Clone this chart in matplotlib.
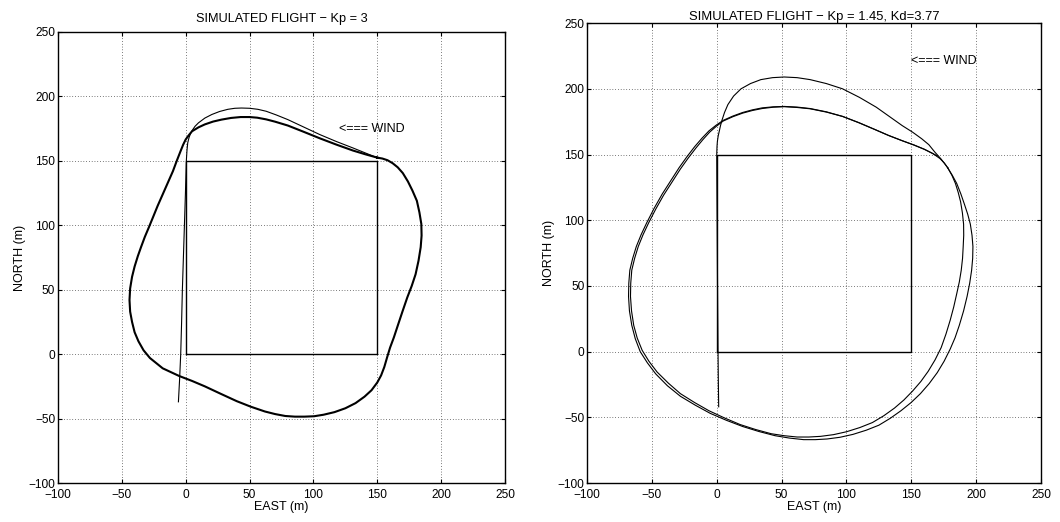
import matplotlib
matplotlib.use('Agg')
import matplotlib.pyplot as plt

plt.rcParams['font.family'] = ['Liberation Sans', 'DejaVu Sans']

# target square (both panels)
square_x = [0, 150, 150, 0, 0]
square_y = [0, 0, 150, 150, 0]

# left panel: Kp = 3
entry1_x = [-5.7, -4.8, -3.9, -3.2, -2.6, -1.8, -1.0, -0.2, 0.5, 1.0, 1.6, 2.6, 3.7, 5.0, 7.3, 10.0, 15.0, 20.5,
            26.5, 33.0, 38.5, 43.7, 50.0, 56.5, 63.0, 71.0, 80.0, 92.5, 105.0, 118.0, 131.0, 141.0, 150.0]
entry1_y = [-37.0, -20.0, 0.0, 25.0, 50.0, 75.0, 100.0, 125.0, 150.0, 158.0, 164.0, 168.0, 171.0, 173.5, 176.8,
            179.5, 183.2, 186.0, 188.3, 190.0, 190.8, 191.0, 190.8, 190.0, 188.5, 185.6, 182.0, 176.2, 170.4, 165.0,
            160.0, 156.0, 152.4]

loop1_x = [150, 154, 158, 162, 166, 170, 174, 177.5, 181, 183, 184.5, 184.7, 184, 182.3, 180, 177, 173.5, 169.7,
           166, 163, 160, 157.7, 155.5, 153, 150, 145.5, 140, 133, 125, 116.5, 108, 100.5, 93, 85.5, 78, 70, 62,
           51, 40, 27.5, 15, 5, -5, -11.5, -18, -23, -28, -33, -37, -40, -42, -43.5, -44, -43.5, -42, -40, -37.5,
           -35, -32, -28.8, -25.7, -22, -18, -14, -10, -7, -4, -2, 0, 2.5, 5, 10, 15, 21.5, 28, 35.5, 43, 50, 56,
           63, 70, 80, 92.5, 105, 118, 131, 141, 150]
loop1_y = [152.5, 151.8, 150.5, 148.2, 145, 140.5, 134, 127, 119, 110, 101, 92, 83, 72.5, 62, 53, 44, 33, 22, 13,
           5, -2.5, -10, -16.5, -22, -28, -33, -38, -42, -45, -47, -48.2, -48.5, -48.5, -48, -46.5, -44.5, -40.8,
           -36.5, -30.8, -25, -20.8, -17, -14, -11, -7, -3, 3, 10, 17, 25, 33, 42, 51, 60, 68, 76, 83, 91, 98.5,
           106, 115, 124, 133, 142, 150, 157.6, 162.5, 166.6, 170, 173, 176, 178.3, 180.5, 182, 183.3, 184, 184,
           183.5, 182.2, 180.4, 177.4, 172.5, 167.5, 162.6, 158, 155, 152.5]

# right panel: Kp = 1.45, Kd = 3.77
entry2_x = [1.5, 1.2, 1.0, 0.6, 0.3, 0.1, 0.0, 0.2, 0.5, 1.1, 2.0, 2.9, 4.0, 6.0, 8.6, 13.0, 18.7, 26.0, 34.0,
            43.0, 52.0, 62.0, 72.0, 84.5, 97.0, 110.0, 123.0, 133.0, 143.0, 151.0, 158.0, 163.5, 168.0, 173.0, 178.0]
entry2_y = [-42.0, -20.0, 0.0, 50.0, 100.0, 130.0, 150.0, 156.0, 160.0, 164.0, 168.0, 172.0, 176.0, 182.0, 188.0,
            194.5, 200.0, 204.0, 207.0, 208.5, 209.0, 208.5, 207.0, 204.0, 200.0, 193.5, 186.0, 179.0, 172.0, 167.0,
            162.0, 157.5, 152.0, 146.5, 140.0]

loopA_x = [178, 181.7, 185, 188.2, 191, 193.5, 195.5, 196.8, 197.5, 197.3, 196.5, 195, 193, 190.3, 187, 183.7,
           180, 175.3, 170, 163.8, 157, 149.8, 142, 133.7, 125, 115.3, 105, 95, 85, 76, 67, 56, 45, 32.5, 20, 7.5,
           -5, -16.5, -28, -38, -47, -53.5, -59, -62.8, -65.5, -67.3, -68, -67.8, -67, -64.8, -62, -58.3, -54,
           -48.3, -42, -35.5, -29, -23, -17, -11.5, -6, -0.5, 5, 12.5, 20, 27.5, 35, 43.5, 52, 62, 72, 84.5, 97,
           109.5, 122, 132.5, 143, 152, 160, 166.5, 172, 175.5, 178]
loopA_y = [140, 134, 128, 120, 112, 104.5, 97, 88.5, 80, 71, 62, 52, 42, 31, 20, 10.5, 2, -7.3, -16, -24.3, -32,
           -38.8, -45, -50.8, -56, -59.8, -63, -65.2, -66.5, -67, -67, -65.8, -64, -60.8, -57, -52.3, -47, -40.8,
           -34, -26, -17, -8.5, 0, 9.8, 20, 31, 42, 52, 62, 71, 80, 89, 98, 109, 120, 130, 140, 148.3, 156, 162.3,
           168, 172.3, 176, 179.3, 182, 184, 185.5, 186.3, 186.6, 186.1, 185, 182.5, 179, 174.3, 169, 164.5, 160.5,
           157.3, 154, 150.8, 147, 143.5, 140]

loopB_x = [178, 181.3, 184, 186.2, 188, 189.4, 190.3, 190.4, 190, 189.5, 188.5, 187, 185, 182.7, 180, 176.7, 173,
           168.3, 163, 157.3, 151, 144.3, 137, 128.8, 120, 110.3, 100, 90, 80, 71, 62, 52, 42, 30, 18, 6, -6, -17,
           -28, -37.3, -46, -52.3, -57.5, -61.3, -64, -65.7, -66.5, -66.3, -65.5, -63.3, -60.5, -56.8, -52.5, -47,
           -41, -34.5, -28, -22, -16, -10.7, -5.5, -0.3, 5, 12.5, 20, 27.5, 35, 43.5, 52, 62, 72, 84.5, 97, 109.5,
           122, 132.5, 143, 152, 160, 165, 170]
loopB_y = [140, 134.2, 128, 121, 114, 105.5, 97, 88.5, 80, 71, 62, 53, 44, 34, 24, 13.3, 3, -6.3, -15, -22.8, -30,
           -36.8, -43, -48.8, -54, -57.8, -61, -63.2, -64.5, -65, -65, -64, -62.5, -59.3, -55.5, -50.5, -45, -38.8,
           -32, -24, -15.5, -7.3, 1, 10.3, 20, 31, 42, 52, 62, 71, 80, 89, 98, 108.5, 119, 129, 139, 147.3, 155,
           161.3, 167, 171.5, 175.5, 178.8, 181.5, 183.5, 185, 186, 186.4, 185.8, 184.8, 182.3, 179, 174.2, 169,
           164.5, 160.5, 157.2, 154, 151.5, 149]

ticks = [-100, -50, 0, 50, 100, 150, 200, 250]

fig = plt.figure(figsize=(10.6, 5.22), dpi=100)
ax1 = fig.add_axes([0.0547, 0.0747, 0.4217, 0.864])
ax2 = fig.add_axes([0.5538, 0.0747, 0.4283, 0.881])

# left
ax1.plot(square_x, square_y, color='black', lw=1.0)
ax1.plot(entry1_x, entry1_y, color='black', lw=0.8)
ax1.plot(loop1_x, loop1_y, color='black', lw=1.5)
ax1.text(120, 175, '<=== WIND', va='center', ha='left', fontsize=9)
ax1.set_title('SIMULATED FLIGHT \u2212 Kp = 3', pad=7, fontsize=9.2)

# right
ax2.plot(square_x, square_y, color='black', lw=1.0)
ax2.plot(entry2_x, entry2_y, color='black', lw=0.8)
ax2.plot(loopA_x, loopA_y, color='black', lw=0.8)
ax2.plot(loopB_x, loopB_y, color='black', lw=0.8)
ax2.text(150, 221, '<=== WIND', va='center', ha='left', fontsize=9)
ax2.set_title('SIMULATED FLIGHT \u2212 Kp = 1.45, Kd=3.77', pad=2, fontsize=9.4)

for ax in (ax1, ax2):
    ax.set_xlim(-100, 250)
    ax.set_ylim(-100, 250)
    ax.set_xticks(ticks)
    ax.set_yticks(ticks)
    ax.tick_params(direction='in', length=3, width=0.8, top=True, right=True, labelsize=8.6)
    ax.tick_params(axis='x', pad=4)
    ax.tick_params(axis='y', pad=2)
    ax.grid(True, color='black', linestyle=(0, (1, 3)), lw=0.5)
    for s in ax.spines.values():
        s.set_linewidth(1.0)
    ax.set_xlabel('EAST (m)', labelpad=0, fontsize=9)
    ax.set_ylabel('NORTH (m)', labelpad=2, fontsize=9)

fig.savefig('out.png', dpi=100)
